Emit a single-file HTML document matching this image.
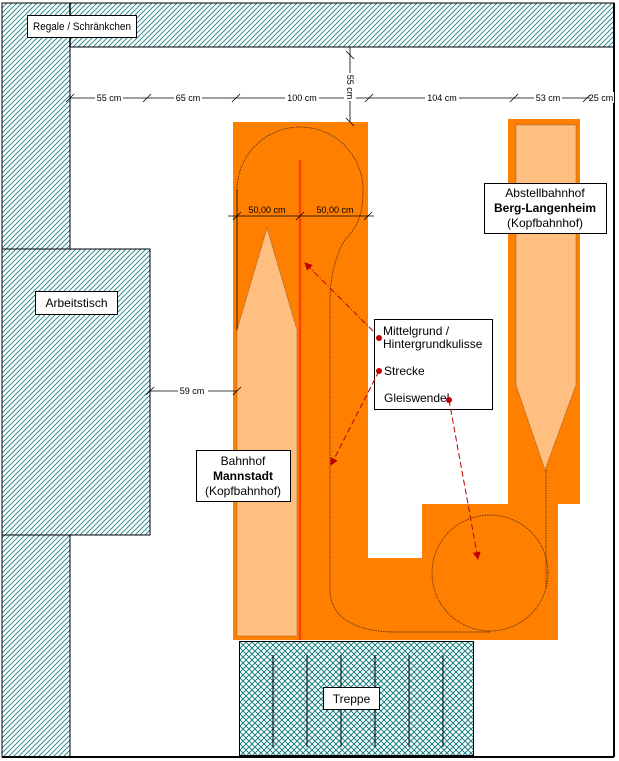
<!DOCTYPE html>
<html><head><meta charset="utf-8"><style>
html,body{margin:0;padding:0;background:#fff;}
svg{display:block;font-family:"Liberation Sans",sans-serif;}
</style></head><body>
<svg width="619" height="761" viewBox="0 0 619 761" xmlns="http://www.w3.org/2000/svg">
<defs>
<pattern id="h" width="5" height="5" patternUnits="userSpaceOnUse">
<rect width="5" height="5" fill="#fff"/>
<path d="M-1,6 L6,-1 M-1,1 L1,-1 M4,6 L6,4" stroke="#1a8080" stroke-width="0.9"/>
</pattern>
<pattern id="x" width="6" height="6" patternUnits="userSpaceOnUse">
<rect width="6" height="6" fill="#fff"/>
<path d="M0,0 L6,6 M6,0 L0,6" stroke="#1a8080" stroke-width="1"/>
</pattern>
<marker id="ar" markerWidth="8" markerHeight="8" refX="7" refY="4" orient="auto" markerUnits="userSpaceOnUse">
<path d="M0,0 L8,4 L0,8z" fill="#c00000"/>
</marker>
</defs>
<rect x="2" y="3" width="612" height="44" fill="url(#h)" stroke="#000" stroke-width="1"/>
<rect x="2" y="3" width="68" height="754" fill="url(#h)" stroke="#000" stroke-width="1"/>
<rect x="70" y="4" width="543" height="42" fill="url(#h)"/>
<line x1="70" y1="47" x2="614" y2="47" stroke="#000"/>
<line x1="70" y1="3" x2="70" y2="47" stroke="#000" stroke-width="1.5"/>
<line x1="70" y1="47" x2="70" y2="249" stroke="#000"/>
<rect x="2" y="249" width="148" height="286" fill="url(#h)" stroke="#000"/>
<line x1="614" y1="3" x2="614" y2="757" stroke="#000" stroke-width="2"/>
<line x1="2" y1="757" x2="614" y2="757" stroke="#000" stroke-width="2"/>
<rect x="27.5" y="15.5" width="109" height="22" fill="#fff" stroke="#000"/>
<text x="33" y="30" font-size="11" textLength="98" lengthAdjust="spacingAndGlyphs">Regale / Schränkchen</text>
<rect x="35.5" y="291.5" width="82" height="23" fill="#fff" stroke="#000"/>
<text x="76.5" y="307" font-size="12" text-anchor="middle">Arbeitstisch</text>
<g fill="#ff8000">
<rect x="233" y="122" width="135" height="518"/>
<rect x="508" y="119" width="72" height="385"/>
<rect x="422" y="504" width="136" height="136"/>
<rect x="368" y="558" width="60" height="82"/>
</g>
<path d="M237,330 L267,228 L297,330 L297,636 L237,636 Z" fill="#ffbf80" stroke="#805020" stroke-width="0.8" stroke-dasharray="1,1"/>
<path d="M516,125 L576,125 L576,385 L545,470 L516,385 Z" fill="#ffbf80" stroke="#805020" stroke-width="0.8" stroke-dasharray="1,1"/>
<g fill="none" stroke="#603010" stroke-width="0.9" stroke-dasharray="1.5,1">
<path d="M237,190 A63,63 0 0 1 363,190 C363,220 355,228 345,240 C335,255 330,280 330,300 L330,590 C330,620 360,632 395,632 L490,632"/>
<circle cx="490" cy="573" r="58"/>
<line x1="546" y1="470" x2="546" y2="590"/>
</g>
<line x1="237" y1="190" x2="237" y2="330" stroke="#000" stroke-width="0.8"/>
<line x1="300" y1="160" x2="300" y2="640" stroke="#ff4000" stroke-width="2.5"/>
<rect x="239.5" y="641.5" width="234" height="114" fill="url(#x)" stroke="#000"/>
<g stroke="#000" stroke-width="1">
<line x1="273" y1="655" x2="273" y2="747"/><line x1="307" y1="655" x2="307" y2="747"/>
<line x1="341" y1="655" x2="341" y2="747"/><line x1="375" y1="655" x2="375" y2="747"/>
<line x1="409" y1="655" x2="409" y2="747"/><line x1="443" y1="655" x2="443" y2="747"/>
</g>
<rect x="323.5" y="687.5" width="56" height="22" fill="#fff" stroke="#000"/>
<text x="351.5" y="703" font-size="12" text-anchor="middle">Treppe</text>
<g stroke="#000" stroke-width="0.8">
<line x1="70" y1="98" x2="614" y2="98"/>
<line x1="66" y1="102" x2="74" y2="94"/><line x1="143" y1="102" x2="151" y2="94"/>
<line x1="232" y1="102" x2="240" y2="94"/><line x1="365" y1="102" x2="373" y2="94"/>
<line x1="510" y1="102" x2="518" y2="94"/><line x1="583" y1="102" x2="591" y2="94"/>
<line x1="350" y1="47" x2="350" y2="122"/>
<line x1="346" y1="51" x2="354" y2="59"/><line x1="346" y1="118" x2="354" y2="126"/>
<line x1="228" y1="216" x2="374" y2="216"/>
<line x1="233" y1="220" x2="241" y2="212"/><line x1="296" y1="220" x2="304" y2="212"/><line x1="364" y1="220" x2="372" y2="212"/>
<line x1="150" y1="391" x2="237" y2="391"/>
<line x1="146" y1="395" x2="154" y2="387"/><line x1="233" y1="395" x2="241" y2="387"/>
</g>
<g font-size="9" text-anchor="middle">
<rect x="95" y="92" width="28" height="11" fill="#fff"/><text x="109" y="101">55 cm</text>
<rect x="174" y="92" width="28" height="11" fill="#fff"/><text x="188" y="101">65 cm</text>
<rect x="285" y="92" width="34" height="11" fill="#fff"/><text x="302" y="101">100 cm</text>
<rect x="425" y="92" width="34" height="11" fill="#fff"/><text x="442" y="101">104 cm</text>
<rect x="534" y="92" width="28" height="11" fill="#fff"/><text x="548" y="101">53 cm</text>
<rect x="590" y="92" width="24" height="11" fill="#fff"/><text x="601" y="101">25 cm</text>
<rect x="344" y="73" width="12" height="28" fill="#fff"/>
<text x="0" y="0" transform="translate(347,87) rotate(90)">55 cm</text>
<rect x="178" y="385" width="30" height="11" fill="#fff"/><text x="192" y="394">59 cm</text>
<text x="267" y="213">50,00 cm</text><text x="335" y="213">50,00 cm</text>
</g>
<rect x="484.5" y="183.5" width="122" height="50" fill="#fff" stroke="#000"/>
<text x="545" y="197" font-size="12" text-anchor="middle">Abstellbahnhof</text>
<text x="545" y="212" font-size="12" font-weight="bold" text-anchor="middle">Berg-Langenheim</text>
<text x="545" y="227" font-size="12" text-anchor="middle">(Kopfbahnhof)</text>
<rect x="196.5" y="450.5" width="94" height="51" fill="#fff" stroke="#000"/>
<text x="243" y="465" font-size="12" text-anchor="middle">Bahnhof</text>
<text x="243" y="480" font-size="12" font-weight="bold" text-anchor="middle">Mannstadt</text>
<text x="243" y="495" font-size="12" text-anchor="middle">(Kopfbahnhof)</text>
<rect x="374.5" y="319.5" width="118" height="90" fill="#fff" stroke="#000"/>
<g font-size="12">
<text x="383" y="335">Mittelgrund /</text>
<text x="383" y="348">Hintergrundkulisse</text>
<text x="384" y="375">Strecke</text>
<text x="384" y="402">Gleiswendel</text>
</g>
<g stroke="#c00000" stroke-width="1" fill="none">
<path d="M373,331 L305,263" stroke-dasharray="6,2,1,2" marker-end="url(#ar)"/>
<path d="M379,371 L331,465" stroke-dasharray="6,3" marker-end="url(#ar)"/>
<path d="M449,400 L478,559" stroke-dasharray="6,3" marker-end="url(#ar)"/>
</g>
<g fill="#c00000">
<circle cx="379" cy="338" r="3"/><circle cx="379" cy="371" r="3"/><circle cx="449" cy="400" r="3"/>
</g>
</svg>
</body></html>
